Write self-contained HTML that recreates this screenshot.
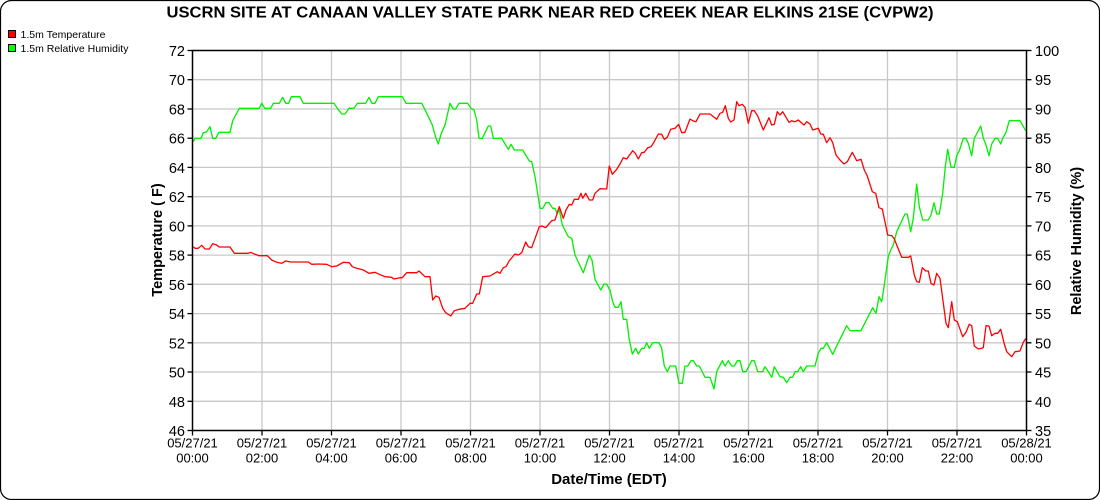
<!DOCTYPE html>
<html><head><meta charset="utf-8"><style>
html,body{margin:0;padding:0;background:#fff;}
svg{display:block;font-family:"Liberation Sans",Arial,sans-serif;}
</style></head><body>
<svg width="1100" height="500" viewBox="0 0 1100 500" xmlns="http://www.w3.org/2000/svg">
<rect x="0.5" y="0.5" width="1099" height="499" rx="11" ry="11" fill="#fff" stroke="#000" stroke-width="1.2"/>
<text x="550" y="17.5" text-anchor="middle" font-size="16" font-weight="bold" textLength="767" lengthAdjust="spacingAndGlyphs">USCRN SITE AT CANAAN VALLEY STATE PARK NEAR RED CREEK NEAR ELKINS 21SE (CVPW2)</text>
<rect x="8.5" y="30.5" width="7" height="7" fill="#ff0000" stroke="#000" stroke-width="1"/>
<text x="20.5" y="38" font-size="10.5">1.5m Temperature</text>
<rect x="8.5" y="44.5" width="7" height="7" fill="#00ff00" stroke="#000" stroke-width="1"/>
<text x="20.5" y="52" font-size="10.5">1.5m Relative Humidity</text>
<g stroke="#c8c8c8" stroke-width="1.3">
<line x1="192.5" x2="1026.5" y1="79.7" y2="79.7"/>
<line x1="192.5" x2="1026.5" y1="109.0" y2="109.0"/>
<line x1="192.5" x2="1026.5" y1="138.2" y2="138.2"/>
<line x1="192.5" x2="1026.5" y1="167.4" y2="167.4"/>
<line x1="192.5" x2="1026.5" y1="196.7" y2="196.7"/>
<line x1="192.5" x2="1026.5" y1="225.9" y2="225.9"/>
<line x1="192.5" x2="1026.5" y1="255.1" y2="255.1"/>
<line x1="192.5" x2="1026.5" y1="284.3" y2="284.3"/>
<line x1="192.5" x2="1026.5" y1="313.6" y2="313.6"/>
<line x1="192.5" x2="1026.5" y1="342.8" y2="342.8"/>
<line x1="192.5" x2="1026.5" y1="372.0" y2="372.0"/>
<line x1="192.5" x2="1026.5" y1="401.3" y2="401.3"/>
<line y1="50.5" y2="430.5" x1="262" x2="262"/>
<line y1="50.5" y2="430.5" x1="331.5" x2="331.5"/>
<line y1="50.5" y2="430.5" x1="401" x2="401"/>
<line y1="50.5" y2="430.5" x1="470.5" x2="470.5"/>
<line y1="50.5" y2="430.5" x1="540" x2="540"/>
<line y1="50.5" y2="430.5" x1="609.5" x2="609.5"/>
<line y1="50.5" y2="430.5" x1="679" x2="679"/>
<line y1="50.5" y2="430.5" x1="748.5" x2="748.5"/>
<line y1="50.5" y2="430.5" x1="818" x2="818"/>
<line y1="50.5" y2="430.5" x1="887.5" x2="887.5"/>
<line y1="50.5" y2="430.5" x1="957" x2="957"/>
</g>
<polyline fill="none" stroke="#00f000" stroke-width="1.3" stroke-linejoin="round" points="193.3,141.7 195,138.3 201,138.3 203.3,132.7 206.7,131.7 210,126.7 212.7,138.3 215.7,138.3 219,132.3 230,132.3 232.7,120.7 239.3,108.3 259.3,108.3 261.7,103.3 264.7,108.3 270.7,108.3 273.3,103.3 279.3,103.3 282.7,97.3 285.7,103.3 288.7,103.3 291.3,96.7 300,96.7 303.3,103.3 334,103.3 337.3,108.3 341.7,114 345,114 349,108.3 354,108.3 357.3,103.3 365.7,103.3 369,97.3 372,103.3 375,103.3 378.3,96.7 402.3,96.7 406,103.3 421.7,103.3 426,111.7 432.3,125 436,138.3 438.3,144 441.3,133.3 445,125 450,103.3 453.3,109 455.7,109 459,103.3 467.7,103.3 471,108.3 474,110 476.7,120 479,138.3 482.3,138.3 488.3,126 490.7,126 493.3,138.3 501.7,138.3 508.3,149.3 511,144.3 514.3,150 522.7,150 529.3,161 531.7,161.7 535,176.7 540,208.3 542.7,208.3 546,202.7 549,202.7 552.7,208.3 555,208.3 557.3,214 559,208.3 562.3,225 568.3,236.7 571.7,238.3 575,255 583.3,272.7 589.3,255 592,260 595,279.3 600.7,290 604,284 606.7,284 609.3,289.3 610,290 612.7,301.7 615,307.3 618.3,307.3 621,301.7 623.3,319.3 626.7,319.3 629,338.3 632.3,354 635.7,348.3 638.3,354 641.7,348.3 644.3,348.3 646.7,342.7 649.3,348.3 652.7,342.7 659,342.7 661.7,348.3 664.3,366 667.3,371.7 670,366 675.7,366 679,383.3 682.3,383.3 685,366 687.7,366 691,360.7 693.3,360.7 696.7,366 699.3,366 705,377.3 710,377.3 714,389 716.7,371.7 722.3,360.7 725,366 728.3,360.7 731.7,366 734.3,366 737.3,360.7 740,360.7 742.7,371.7 746,371.7 751.7,360.7 754.3,360.7 757.7,371.7 762.7,371.7 765,366.7 768.3,371.7 771.7,377.3 774.3,366.7 780,376.7 783.3,377.3 786.7,382.7 790,377.3 792.7,377.3 795,371.7 797.7,371.7 800.7,366.7 803.3,371.7 806.7,366 815,366 818.3,353.3 821,348.3 823.3,348.3 826.7,342.7 832.7,354.3 838.3,342.7 846.7,325.7 850,330.7 861,330.7 866.7,319.3 872.7,307.7 876,313.3 879,296.7 881.7,301.7 884.3,285 888.3,256.7 890.7,250 893.3,245 896.7,231.7 905,214 907.3,214 910.7,231.7 913.3,218.3 916.7,184 919.3,206.7 922.7,220 928.3,220 931,215 934,202.7 936.7,214 939.3,214 942.7,193.3 945.3,166.7 947.7,149.3 951,167.3 954.3,167.3 956.7,155.7 959.3,150.7 963.3,138.3 966,138.3 968.3,143.3 971.7,155.7 974.3,138.3 977.3,132.7 980.7,126 983.3,138.3 985.7,144 989,155.7 991.7,144 995,138.3 997.7,138.3 1000.7,144 1002.7,138.3 1006,132.3 1009.3,120.7 1020,120.7 1025.7,130.7"/>
<polyline fill="none" stroke="#ff0000" stroke-width="1.3" stroke-linejoin="round" points="193.3,246.7 195,248.3 198.3,248.3 201.7,245.3 205,249 209.3,249 212.7,243.7 216,244.7 219.3,247 230,247 234.3,253.3 248.3,253.3 250.7,252.3 255,254.3 259,255.7 267.3,255.7 271.7,260 276.7,262.3 281.7,263.3 285.7,261 291,262 308.3,262 311.7,264.3 318.3,264 326.7,264.3 331.7,266.7 336.7,266 343.3,262.3 349.3,262.7 352.3,266.7 356.7,268.3 363.3,270 369,273.3 375,272.3 379.3,274.3 385,276.7 391.7,277.3 394,279 400,277.7 402.3,277.7 406.7,272.7 416.7,272.7 419,271 425,276.7 430,276.7 432.7,300 435.7,296 439,297.3 442.7,308.3 445.7,312.7 450.7,316 454.3,310.7 459.3,309.3 465,308.3 470,303.3 472.7,303.3 476.7,294 479.3,294 482.7,276.7 490,276 497.3,271.7 500,273.3 503.3,267.7 506,266.7 509.3,260.7 515,254 518.3,255 521.7,252.7 525.7,242 528.3,246.7 531.7,247.7 539.3,226.7 541.7,226 545.7,227.7 551.7,220.7 555,220 559.3,206.7 563.3,218.3 566,210 569.3,204.3 571.7,205 574.3,199.3 578.3,199.3 581,193.3 582.7,198.3 585.7,193.3 589.3,200 592.7,200 595,193.3 600,188.7 606.7,189 609.3,166 612.3,174.3 616.7,169.3 620,164 623.3,157.7 626.7,159 632.7,150.7 635.3,153.3 638.3,159 641.7,152.7 644.3,152.3 647.7,147.7 651,146.7 653.3,143.3 658.3,134 661.7,134.3 664.3,139.3 667.3,137.3 670.7,129.3 675,128.3 678.7,124.3 681.7,132.7 685,132.3 690,119 692.7,120.7 696,121.7 700,114 710,114 716.7,119.3 720,113.3 722.7,112.3 725.3,105.7 728.3,118.3 730.7,122 734,120 736.7,101.7 739,105.7 742.3,104.3 745,107.3 748.3,123.3 751.7,110.7 754.3,110.7 757.7,116 763.3,130 769,117.7 771.7,125 774.3,124.3 777.3,111.7 780,115 782.7,111.7 789,122.3 791.7,120.7 795,121.7 798.3,120 804,125 806.7,121.7 810,124 812.7,130 818.3,128.3 820.7,134 823.3,134.3 826.7,142.7 830,137.7 832.7,142.7 836,155 840,160 844,164 847.3,161.7 852.3,152.3 856.7,160.7 861,159.3 864.3,170 867.3,176 872.3,191.7 875.7,193.3 879,207.7 882.3,209 887.7,235 891.7,235.7 894,238.3 896.7,245 901.7,257.3 908.3,257.3 910.7,256 914.3,275 916.7,281.7 919.3,282.3 922.3,267.7 925.7,271 928.3,271 931,283.3 934,285 936.7,273.3 940,278.3 946,323.3 948.3,327.7 951.7,301.7 954.3,320 957.3,321.7 962.7,336.7 966,332.3 969.3,324.3 971.7,325.7 974.3,346 978.3,349 983.3,347.7 986,325.7 989,326 991.7,335.7 995,333.3 997.7,333.3 1000.7,329.3 1004.3,344 1006.7,351.7 1011.7,356.7 1015,351.7 1020,351 1023.3,342.3 1026,338.3"/>
<rect x="192.5" y="50.5" width="834" height="380" fill="none" stroke="#000" stroke-width="1.5"/>
<g stroke="#000" stroke-width="1.3">
<line x1="187.5" x2="192.5" y1="50.5" y2="50.5"/><line x1="187.5" x2="192.5" y1="79.7" y2="79.7"/><line x1="187.5" x2="192.5" y1="109.0" y2="109.0"/><line x1="187.5" x2="192.5" y1="138.2" y2="138.2"/><line x1="187.5" x2="192.5" y1="167.4" y2="167.4"/><line x1="187.5" x2="192.5" y1="196.7" y2="196.7"/><line x1="187.5" x2="192.5" y1="225.9" y2="225.9"/><line x1="187.5" x2="192.5" y1="255.1" y2="255.1"/><line x1="187.5" x2="192.5" y1="284.3" y2="284.3"/><line x1="187.5" x2="192.5" y1="313.6" y2="313.6"/><line x1="187.5" x2="192.5" y1="342.8" y2="342.8"/><line x1="187.5" x2="192.5" y1="372.0" y2="372.0"/><line x1="187.5" x2="192.5" y1="401.3" y2="401.3"/><line x1="187.5" x2="192.5" y1="430.5" y2="430.5"/>
<line x1="1026.5" x2="1031.5" y1="50.5" y2="50.5"/><line x1="1026.5" x2="1031.5" y1="79.7" y2="79.7"/><line x1="1026.5" x2="1031.5" y1="109.0" y2="109.0"/><line x1="1026.5" x2="1031.5" y1="138.2" y2="138.2"/><line x1="1026.5" x2="1031.5" y1="167.4" y2="167.4"/><line x1="1026.5" x2="1031.5" y1="196.7" y2="196.7"/><line x1="1026.5" x2="1031.5" y1="225.9" y2="225.9"/><line x1="1026.5" x2="1031.5" y1="255.1" y2="255.1"/><line x1="1026.5" x2="1031.5" y1="284.3" y2="284.3"/><line x1="1026.5" x2="1031.5" y1="313.6" y2="313.6"/><line x1="1026.5" x2="1031.5" y1="342.8" y2="342.8"/><line x1="1026.5" x2="1031.5" y1="372.0" y2="372.0"/><line x1="1026.5" x2="1031.5" y1="401.3" y2="401.3"/><line x1="1026.5" x2="1031.5" y1="430.5" y2="430.5"/>
<line y1="430.5" y2="435.5" x1="192.5" x2="192.5"/><line y1="430.5" y2="435.5" x1="262" x2="262"/><line y1="430.5" y2="435.5" x1="331.5" x2="331.5"/><line y1="430.5" y2="435.5" x1="401" x2="401"/><line y1="430.5" y2="435.5" x1="470.5" x2="470.5"/><line y1="430.5" y2="435.5" x1="540" x2="540"/><line y1="430.5" y2="435.5" x1="609.5" x2="609.5"/><line y1="430.5" y2="435.5" x1="679" x2="679"/><line y1="430.5" y2="435.5" x1="748.5" x2="748.5"/><line y1="430.5" y2="435.5" x1="818" x2="818"/><line y1="430.5" y2="435.5" x1="887.5" x2="887.5"/><line y1="430.5" y2="435.5" x1="957" x2="957"/><line y1="430.5" y2="435.5" x1="1026.5" x2="1026.5"/>
</g>
<g font-size="14.5" text-anchor="end">
<text x="185" y="56">72</text><text x="185" y="85.2">70</text><text x="185" y="114.5">68</text><text x="185" y="143.7">66</text><text x="185" y="172.9">64</text><text x="185" y="202.2">62</text><text x="185" y="231.4">60</text><text x="185" y="260.6">58</text><text x="185" y="289.8">56</text><text x="185" y="319.1">54</text><text x="185" y="348.3">52</text><text x="185" y="377.5">50</text><text x="185" y="406.8">48</text><text x="185" y="436">46</text>
</g>
<g font-size="14.5" text-anchor="start">
<text x="1035" y="56">100</text><text x="1035" y="85.2">95</text><text x="1035" y="114.5">90</text><text x="1035" y="143.7">85</text><text x="1035" y="172.9">80</text><text x="1035" y="202.2">75</text><text x="1035" y="231.4">70</text><text x="1035" y="260.6">65</text><text x="1035" y="289.8">60</text><text x="1035" y="319.1">55</text><text x="1035" y="348.3">50</text><text x="1035" y="377.5">45</text><text x="1035" y="406.8">40</text><text x="1035" y="436">35</text>
</g>
<g font-size="13" text-anchor="middle">
<text x="192.5" y="447.5">05/27/21</text><text x="192.5" y="462.7">00:00</text>
<text x="262" y="447.5">05/27/21</text><text x="262" y="462.7">02:00</text>
<text x="331.5" y="447.5">05/27/21</text><text x="331.5" y="462.7">04:00</text>
<text x="401" y="447.5">05/27/21</text><text x="401" y="462.7">06:00</text>
<text x="470.5" y="447.5">05/27/21</text><text x="470.5" y="462.7">08:00</text>
<text x="540" y="447.5">05/27/21</text><text x="540" y="462.7">10:00</text>
<text x="609.5" y="447.5">05/27/21</text><text x="609.5" y="462.7">12:00</text>
<text x="679" y="447.5">05/27/21</text><text x="679" y="462.7">14:00</text>
<text x="748.5" y="447.5">05/27/21</text><text x="748.5" y="462.7">16:00</text>
<text x="818" y="447.5">05/27/21</text><text x="818" y="462.7">18:00</text>
<text x="887.5" y="447.5">05/27/21</text><text x="887.5" y="462.7">20:00</text>
<text x="957" y="447.5">05/27/21</text><text x="957" y="462.7">22:00</text>
<text x="1026.5" y="447.5">05/28/21</text><text x="1026.5" y="462.7">00:00</text>
</g>
<text x="609" y="484" font-size="15" font-weight="bold" text-anchor="middle">Date/Time (EDT)</text>
<text transform="translate(157,240) rotate(-90)" dy="5" font-size="14.5" font-weight="bold" text-anchor="middle">Temperature ( F)</text>
<text transform="translate(1076,241) rotate(-90)" dy="5" font-size="14.5" font-weight="bold" text-anchor="middle">Relative Humidity (%)</text>
</svg>
</body></html>
